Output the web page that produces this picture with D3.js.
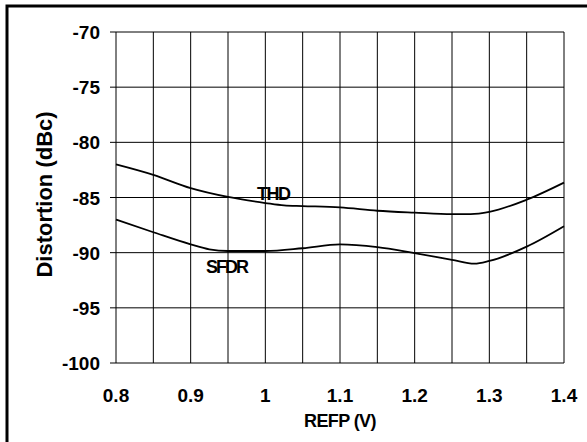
<!DOCTYPE html>
<html>
<head>
<meta charset="utf-8">
<script src="https://cdn.jsdelivr.net/npm/d3@7"></script>
<style>
html,body{margin:0;padding:0;background:#fff;}
svg{display:block;}
text{font-family:"Liberation Sans",Arial,sans-serif;font-weight:bold;fill:#000;}
</style>
</head>
<body>
<svg id="chart" width="587" height="442"></svg>
<script>
const xTicks = [0.8, 0.9, 1.0, 1.1, 1.2, 1.3, 1.4];
const xTickLabels = ["0.8", "0.9", "1", "1.1", "1.2", "1.3", "1.4"];
const yTicks = [-70, -75, -80, -85, -90, -95, -100];
const xGrid = [0.8, 0.85, 0.9, 0.95, 1.0, 1.05, 1.1, 1.15, 1.2, 1.25, 1.3, 1.35, 1.4];

const thdX = [0.8, 0.85, 0.9, 0.95, 1.0, 1.025, 1.05, 1.1, 1.15, 1.2, 1.25, 1.275, 1.3, 1.35, 1.4];
const thdY = [-82.0, -82.95, -84.15, -84.95, -85.5, -85.72, -85.78, -85.9, -86.2, -86.37, -86.5, -86.5, -86.3, -85.2, -83.65];

const sfdrX = [0.8, 0.85, 0.9, 0.925, 0.95, 1.0, 1.05, 1.1, 1.15, 1.2, 1.25, 1.28, 1.3, 1.35, 1.4];
const sfdrY = [-87.0, -88.15, -89.25, -89.7, -89.85, -89.85, -89.6, -89.25, -89.5, -90.05, -90.65, -91.0, -90.75, -89.45, -87.6];

const svg = d3.select("#chart");
const L = 116, R = 564, T = 32, B = 363;
const x = d3.scaleLinear().domain([0.8, 1.4]).range([L, R]);
const y = d3.scaleLinear().domain([-100, -70]).range([B, T]);

// outer frame (clipped at right/bottom)
svg.append("rect").attr("x", 7).attr("y", 6).attr("width", 600).attr("height", 460)
  .attr("fill", "none").attr("stroke", "#000").attr("stroke-width", 3);

// grid
svg.append("g").selectAll("line").data(xGrid).join("line")
  .attr("x1", d => x(d)).attr("x2", d => x(d)).attr("y1", T).attr("y2", B)
  .attr("stroke", "#000").attr("stroke-width", 1);
svg.append("g").selectAll("line").data(yTicks).join("line")
  .attr("x1", L - 6).attr("x2", R).attr("y1", d => y(d)).attr("y2", d => y(d))
  .attr("stroke", "#000").attr("stroke-width", 1);

// y tick labels
svg.append("g").selectAll("text").data(yTicks).join("text")
  .attr("x", 100).attr("y", d => y(d) + 7).attr("text-anchor", "end")
  .style("font-size", "19px").text(d => d);

// x tick labels
svg.append("g").selectAll("text").data(xTicks).join("text")
  .attr("x", d => x(d)).attr("y", 402).attr("text-anchor", "middle")
  .style("font-size", "19px").text((d, i) => xTickLabels[i]);

// axis titles
svg.append("text").attr("x", (L + R) / 2).attr("y", 427).attr("text-anchor", "middle")
  .style("font-size", "18px").style("letter-spacing", "-0.6px").text("REFP (V)");
svg.append("text").attr("transform", `translate(52,${(T + B) / 2 - 3}) rotate(-90)`)
  .attr("text-anchor", "middle").style("font-size", "22px").text("Distortion (dBc)");

// curves
const line = d3.line().x(d => x(d[0])).y(d => y(d[1])).curve(d3.curveMonotoneX);
svg.append("path").datum(thdX.map((v, i) => [v, thdY[i]])).attr("d", line)
  .attr("fill", "none").attr("stroke", "#000").attr("stroke-width", 1.8);
svg.append("path").datum(sfdrX.map((v, i) => [v, sfdrY[i]])).attr("d", line)
  .attr("fill", "none").attr("stroke", "#000").attr("stroke-width", 1.8);

// series labels
svg.append("text").attr("x", 257).attr("y", 200).style("font-size", "18px")
  .style("letter-spacing", "-1.5px").text("THD");
svg.append("text").attr("x", 206).attr("y", 273).style("font-size", "18px")
  .style("letter-spacing", "-2px").text("SFDR");
</script>
</body>
</html>
